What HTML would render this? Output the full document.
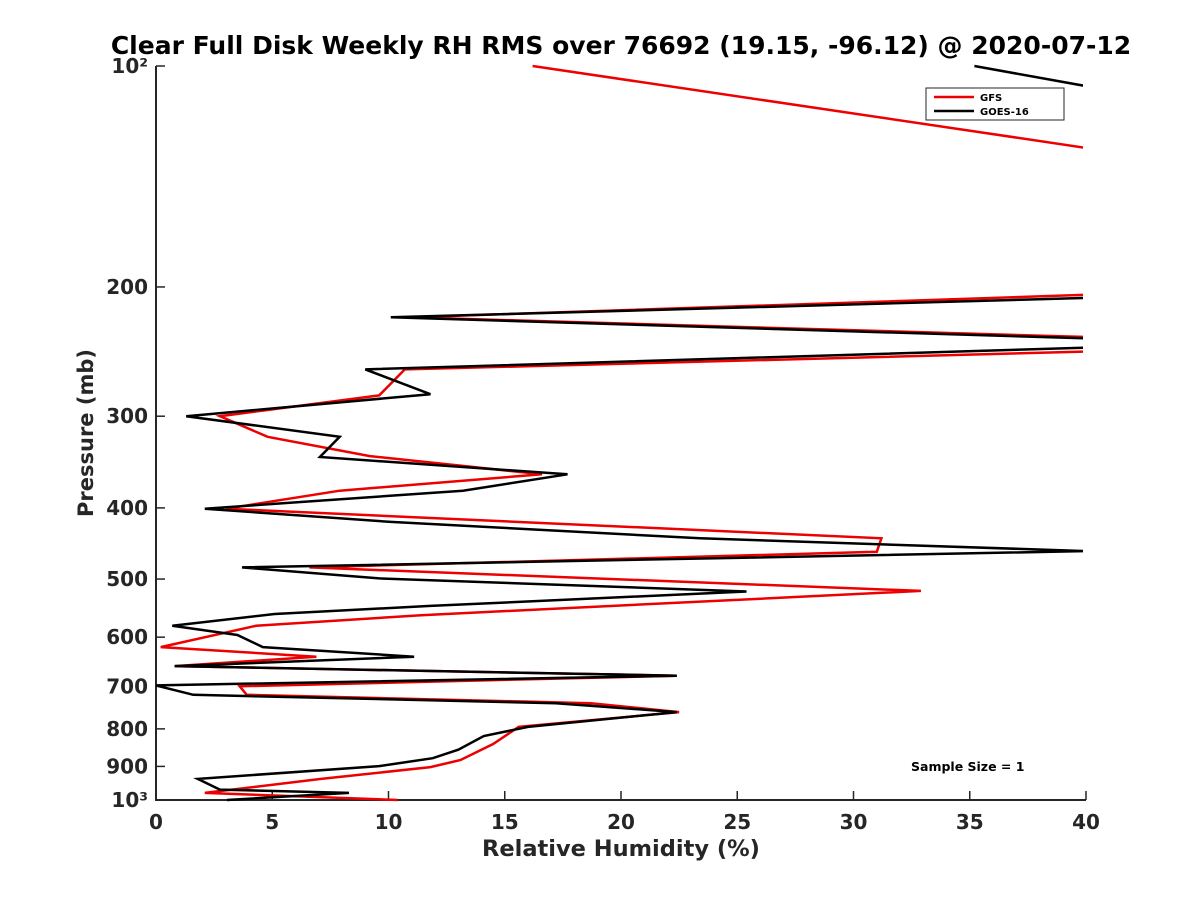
<!DOCTYPE html>
<html><head><meta charset="utf-8"><style>
body{margin:0;background:#fff}
svg{font-family:"DejaVu Sans","Liberation Sans",sans-serif;font-weight:bold}
</style></head><body>
<svg width="1200" height="900" id="c">
<defs><clipPath id="clip"><rect x="156" y="60" width="927" height="745"/></clipPath></defs>
<rect width="1200" height="900" fill="#fff"/>
<text x="621" y="54" text-anchor="middle" font-size="25">Clear Full Disk Weekly RH RMS over 76692 (19.15, -96.12) @ 2020-07-12</text>
<g id="ax"></g>
<g id="series" clip-path="url(#clip)"></g>
<text x="621" y="856" text-anchor="middle" font-size="22.5" fill="#262626">Relative Humidity (%)</text>
<text transform="translate(93,433) rotate(-90)" text-anchor="middle" font-size="21" fill="#262626">Pressure (mb)</text>
<g>
<rect x="926" y="88" width="138" height="32" fill="#fff" stroke="#262626" stroke-width="1"/>
<line x1="934" y1="97" x2="974" y2="97" stroke="#e00" stroke-width="2.5"/>
<text x="980" y="101" font-size="10">GFS</text>
<line x1="934" y1="111" x2="974" y2="111" stroke="#000" stroke-width="2.5"/>
<text x="980" y="115" font-size="10">GOES-16</text>
</g>
<text x="911" y="771" font-size="12.5">Sample Size = 1</text>
</svg>
<script>
const gfsP=[100,129.3,205,220,234,245,259,281,300,320,340,360,379,401,440,459,482,519,560,579,619,638,657,677,700,719,738,759,795,839,882,902,936,978,1000];
const gfsRH=[16.2,40,40,10.9,40,40,10.7,9.6,2.75,4.8,9.2,16.6,7.9,3.0,31.2,31.0,6.6,32.9,11.4,4.3,0.2,6.9,0.8,22.4,3.6,3.9,18.7,22.5,15.6,14.5,13.1,11.8,7.1,2.1,10.4];
const goesP=[100,106.5,207,220,235,242,259,280,300,320,341,360,379,401,418,440,458,482,499,520,544,558,579,596,619,638,657,677,698,719,738,759,795,818,854,877,899,936,968,978,1000];
const goesRH=[35.2,40,40,10.1,40,40,9.0,11.8,1.3,7.9,7.05,17.7,13.2,2.1,10.1,23.4,40,3.7,9.6,25.4,11.8,5.1,0.7,3.5,4.6,11.1,0.8,22.4,0,1.6,17.2,22.4,16,14.1,13,11.9,9.6,1.8,2.75,8.3,3.05];
const xTicks=[0,5,10,15,20,25,30,35,40];
const yTicks=[100,200,300,400,500,600,700,800,900,1000];
const yLabels=["10²","200","300","400","500","600","700","800","900","10³"];
const X0=156,X1=1086,Y0=66,Y1=800;
const xs=v=>X0+(v/40)*(X1-X0);
const ys=p=>Y0+(Math.log10(p)-2)*(Y1-Y0);
const NS="http://www.w3.org/2000/svg";
const ax=document.getElementById('ax'),sg=document.getElementById('series');
function mk(tag,a,par){const e=document.createElementNS(NS,tag);for(const k in a)e.setAttribute(k,a[k]);par.appendChild(e);return e;}
const axl=mk('path',{d:`M${X0},${Y0}V${Y1}H${X1}`,fill:'none',stroke:'#262626','stroke-width':2},ax);


xTicks.forEach(t=>{const x=xs(t);
 const l=mk('line',{x1:x,x2:x,y1:Y1,y2:Y1-9,stroke:'#262626','stroke-width':1.5},ax);
 
 
 const tx=mk('text',{x:x,y:Y1+29,'text-anchor':'middle','font-size':20,fill:'#262626'},ax);tx.textContent=t;
 
 });
yTicks.forEach((t,i)=>{const y=ys(t);
 const l=mk('line',{x1:X0,x2:X0+9,y1:y,y2:y,stroke:'#262626','stroke-width':1.5},ax);
 
 
 const tx=mk('text',{x:X0-8,y:y+7,'text-anchor':'end','font-size':20,fill:'#262626'},ax);tx.textContent=yLabels[i];
 
 });
function line(P,R,col,name){const d=P.map((p,i)=>(i?'L':'M')+xs(R[i]).toFixed(1)+','+ys(p).toFixed(1)).join('');
 const e=mk('path',{d:d,fill:'none',stroke:col,'stroke-width':2.5,'stroke-linejoin':'miter'},sg);
 
 }
line(gfsP,gfsRH,'#e00','gfs-line');
line(goesP,goesRH,'#000','goes-line');
</script>
</body></html>
